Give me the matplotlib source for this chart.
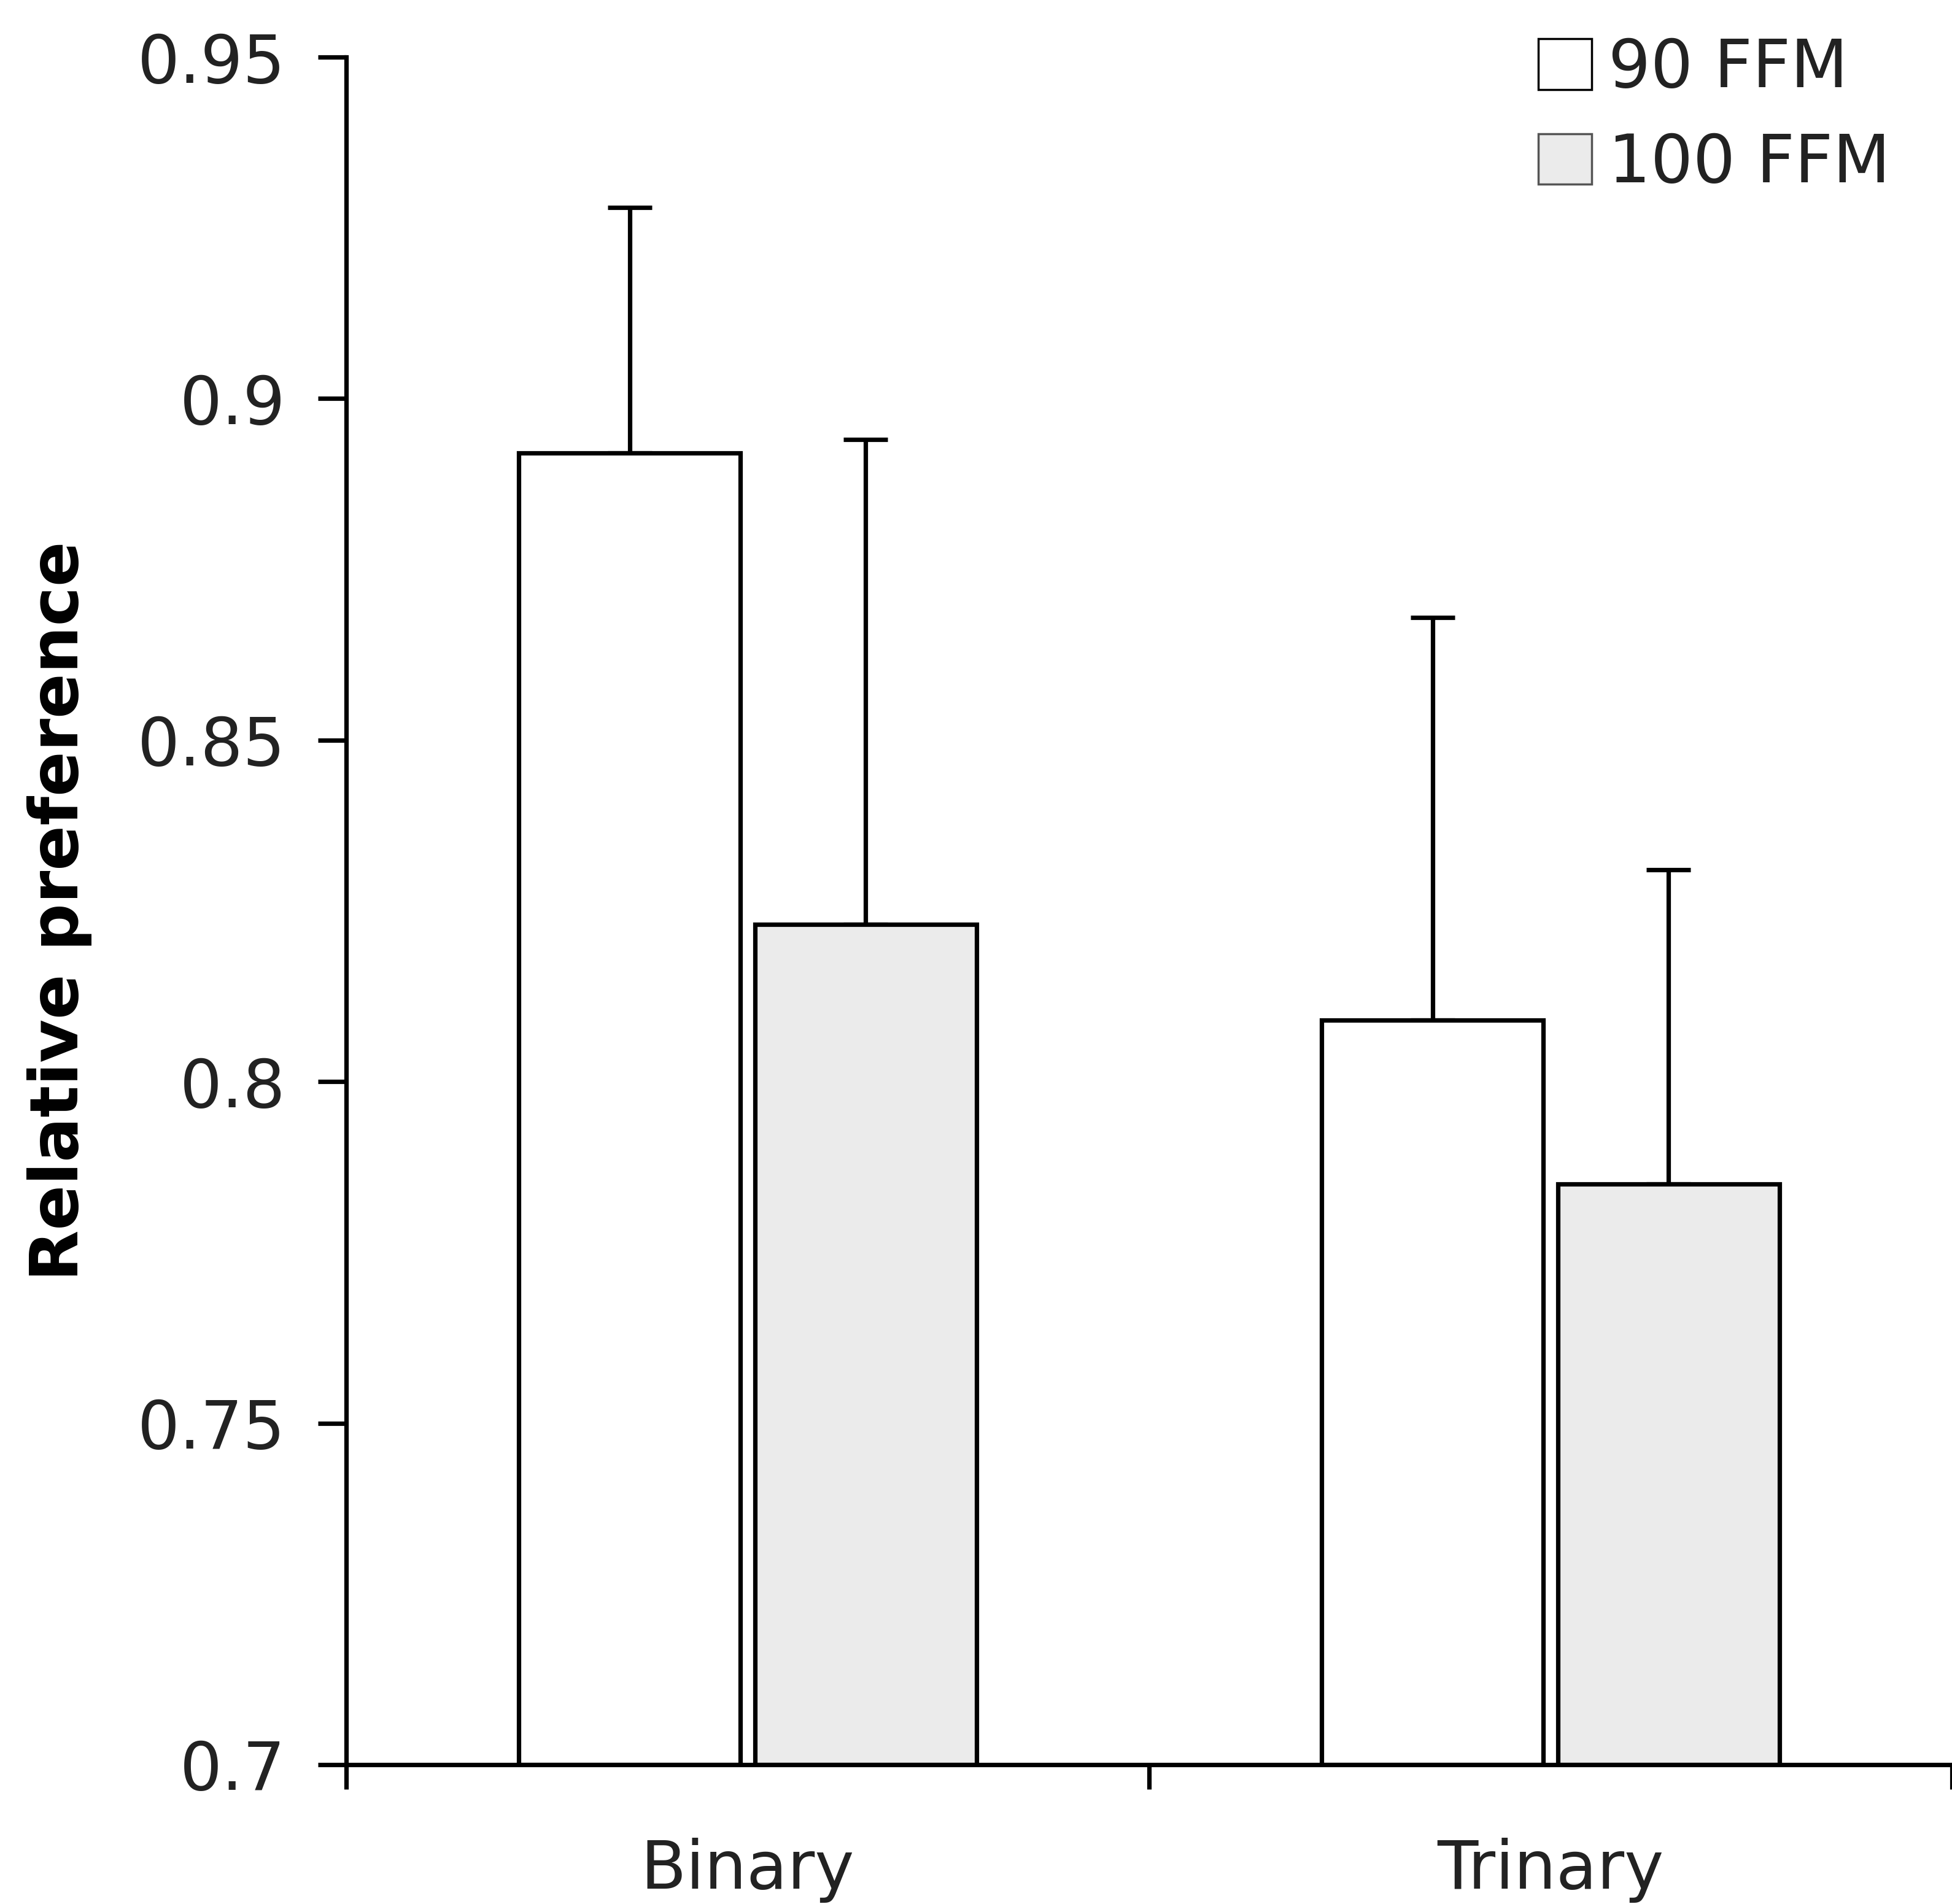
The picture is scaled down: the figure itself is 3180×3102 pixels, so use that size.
import matplotlib
matplotlib.use('Agg')
from matplotlib import pyplot as plt
from matplotlib.patches import Patch
import numpy as np

plt.rcParams['font.family'] = 'DejaVu Sans'

categorias = ['Binary', 'Trinary']
series = ['90 FFM', '100 FFM']
media_90 = [0.892, 0.809]
media_100 = [0.823, 0.785]
erro_90 = [0.036, 0.059]
erro_100 = [0.071, 0.046]
yticks = [0.7, 0.75, 0.8, 0.85, 0.9, 0.95]
ytick_labels = ['0.7', '0.75', '0.8', '0.85', '0.9', '0.95']

cores = ['white', '#ebebeb']
fs = 78
lw = 5.2

fig = plt.figure(figsize=(31.8, 31.02), dpi=100)
ax = fig.add_axes([0.1773, 0.0732, 0.8227, 0.8968])

centros = np.arange(len(categorias)) + 0.5
largura = 0.276
desloc = 0.147

for i, (vals, errs) in enumerate([(media_90, erro_90), (media_100, erro_100)]):
    xs = centros + (i * 2 - 1) * desloc
    ax.bar(xs, np.array(vals) - 0.7, bottom=0.7, width=largura, color=cores[i],
           edgecolor='black', linewidth=lw, zorder=2)
    ax.errorbar(xs, vals, yerr=[np.zeros(len(errs)), errs], fmt='none',
                ecolor='black', elinewidth=lw, capsize=26, capthick=lw, zorder=1)

ax.set_xlim(0, 1.994)
ax.set_ylim(0.7, 0.95)
ax.set_yticks(yticks)
ax.set_yticklabels(ytick_labels)
ax.set_xticks([0, 1, 2])
ax.set_xticklabels(['', '', ''])
ax.set_xticks(centros, minor=True)
ax.set_xticklabels(categorias, minor=True)
ax.tick_params(axis='x', which='minor', length=0, pad=86, labelsize=fs, labelcolor='#222222')
ax.tick_params(axis='x', which='major', length=29, width=lw, direction='out')
ax.tick_params(axis='y', length=33, width=lw, pad=38, labelsize=fs, direction='out',
               labelcolor='#222222')

for lado in ['top', 'right']:
    ax.spines[lado].set_visible(False)
for lado in ['left', 'bottom']:
    ax.spines[lado].set_linewidth(lw)

ax.set_ylabel('Relative preference', fontsize=fs, fontweight='bold', labelpad=53)

handles = [Patch(facecolor=cores[0], edgecolor='black', linewidth=2.5),
           Patch(facecolor=cores[1], edgecolor='#555555', linewidth=2.5)]
fig.legend(handles, series, loc='upper left', bbox_to_anchor=(0.788, 0.981),
           frameon=False, fontsize=fs, handlelength=0.8, handleheight=0.8,
           handletextpad=0.25, labelspacing=0.45, borderpad=0, borderaxespad=0,
           labelcolor='#222222')

fig.savefig('out.png', dpi=100)
